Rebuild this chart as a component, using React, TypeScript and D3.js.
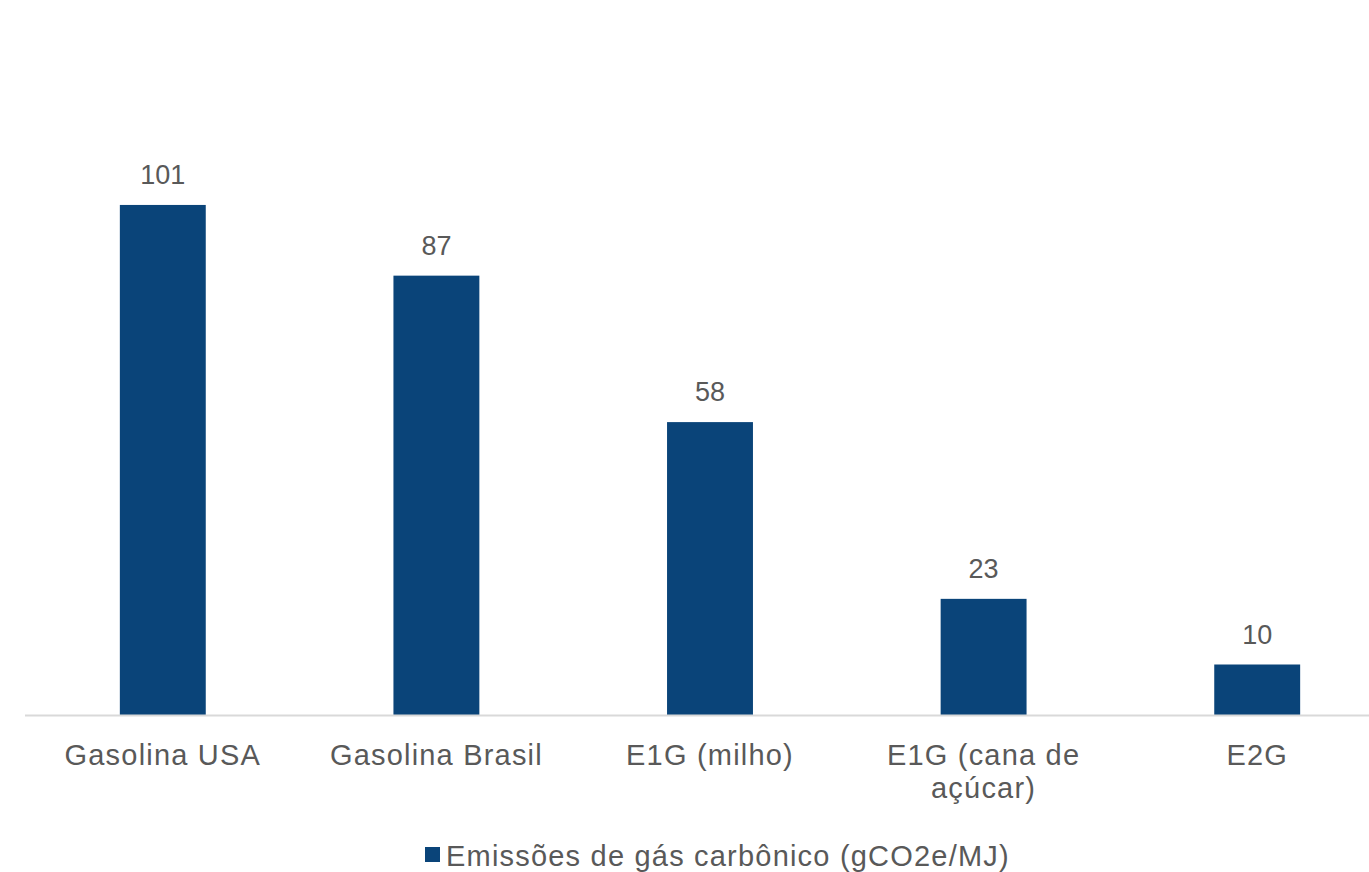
import React from "react";
import * as d3 from "d3";

const categories: string[][] = [
  ["Gasolina USA"],
  ["Gasolina Brasil"],
  ["E1G (milho)"],
  ["E1G (cana de", "açúcar)"],
  ["E2G"],
];
const values: number[] = [101, 87, 58, 23, 10];
const seriesName = "Emissões de gás carbônico (gCO2e/MJ)";

const W = 1369;
const H = 872;
const BAR = "#0a4479";
const TEXT = "#595959";
const FONT = "'Liberation Sans', Arial, sans-serif";

export default function App() {
  const keys = categories.map((c) => c.join(" "));
  const x = d3
    .scaleBand<string>()
    .domain(keys)
    .range([26, 1394])
    .paddingInner(0.686)
    .paddingOuter(0.343);
  const y = d3.scaleLinear().domain([0, 120]).range([715, 109]);

  return (
    <svg
      width={W}
      height={H}
      style={{ position: "absolute", left: 0, top: 0, background: "#fff" }}
      fontFamily={FONT}
    >
      <rect x={0} y={0} width={W} height={H} fill="#fff" />
      {values.map((v, i) => (
        <rect
          key={keys[i]}
          x={x(keys[i])!}
          y={y(v)}
          width={x.bandwidth()}
          height={y(0) - y(v)}
          fill={BAR}
        />
      ))}
      <line x1={25} x2={W} y1={y(0) + 0.5} y2={y(0) + 0.5} stroke="#d9d9d9" strokeWidth={2} />
      {values.map((v, i) => (
        <text
          key={"l" + i}
          x={x(keys[i])! + x.bandwidth() / 2}
          y={y(v) - 21}
          textAnchor="middle"
          fontSize={27}
          fill={TEXT}
        >
          {v}
        </text>
      ))}
      {categories.map((lines, i) => (
        <text
          key={"c" + i}
          x={x(keys[i])! + x.bandwidth() / 2}
          y={765}
          textAnchor="middle"
          fontSize={29}
          letterSpacing={1.2}
          fill={TEXT}
        >
          {lines.map((ln, j) => (
            <tspan key={j} x={x(keys[i])! + x.bandwidth() / 2} dy={j === 0 ? 0 : 33}>
              {ln}
            </tspan>
          ))}
        </text>
      ))}
      <rect x={425} y={847} width={15} height={15} fill={BAR} />
      <text x={446} y={866} fontSize={29} letterSpacing={1.2} fill={TEXT}>
        {seriesName}
      </text>
    </svg>
  );
}
